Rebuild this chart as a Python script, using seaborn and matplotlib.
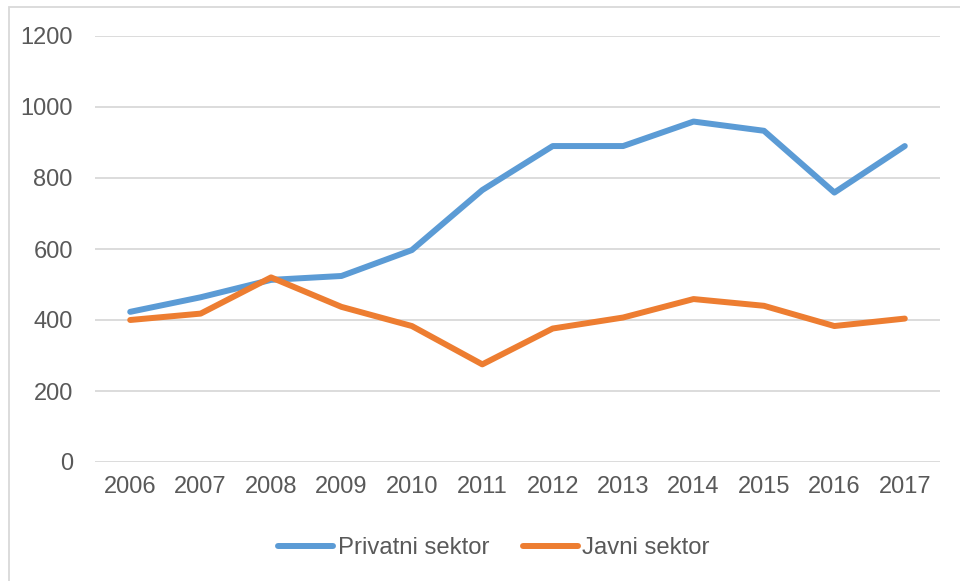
import numpy as np
import pandas as pd
import matplotlib
matplotlib.use("Agg")
import matplotlib.pyplot as plt
import seaborn as sns
from matplotlib.patches import Rectangle

# ========================= Data =========================
years = [2006, 2007, 2008, 2009, 2010, 2011, 2012, 2013, 2014, 2015, 2016, 2017]
privatni = [423, 464, 513, 524, 597, 766, 890, 890, 959, 933, 759, 890]
javni = [400, 418, 520, 437, 383, 275, 376, 407, 459, 440, 383, 404]
series_names = ["Privatni sektor", "Javni sektor"]
y_ticks = [0, 200, 400, 600, 800, 1000, 1200]

BLUE = "#5B9BD5"
ORANGE = "#ED7D31"
TEXT = "#595959"
GRID = "#D9D9D9"

df = pd.DataFrame({
    "Godina": [str(y) for y in years] * 2,
    "Vrijednost": privatni + javni,
    "Sektor": [series_names[0]] * len(years) + [series_names[1]] * len(years),
})

sns.set_theme(style="white")
plt.rcParams["font.family"] = ["Liberation Sans", "DejaVu Sans"]

fig = plt.figure(figsize=(9.6, 5.81), dpi=100)
ax = fig.add_axes([95 / 960, 1 - 462 / 581, 845 / 960, 426 / 581])

sns.lineplot(data=df, x="Godina", y="Vrijednost", hue="Sektor",
             palette=[BLUE, ORANGE], linewidth=4.3, sort=False,
             legend=False, ax=ax, solid_capstyle="round", solid_joinstyle="round")

# Cosmetics
ax.set_xlim(-0.5, len(years) - 0.5)
ax.set_ylim(0, 1200)
ax.set_yticks(y_ticks)
ax.set_yticklabels([str(t) for t in y_ticks])
ax.yaxis.grid(True, color=GRID, linewidth=1.3)
ax.set_axisbelow(True)
for s in ax.spines.values():
    s.set_visible(False)
ax.tick_params(axis="both", length=0, labelsize=17, labelcolor=TEXT)
ax.tick_params(axis="y", pad=16)
ax.tick_params(axis="x", pad=10)
ax.set_xlabel("")
ax.set_ylabel("")

# Legend
handles = [plt.Line2D([], [], color=c, linewidth=4.3, solid_capstyle="round")
           for c in (BLUE, ORANGE)]
fig.legend(handles, series_names, loc="center", bbox_to_anchor=(0.5 + 14 / 960, 1 - 548 / 581),
           ncol=2, frameon=False, fontsize=17.2, labelcolor=TEXT,
           handlelength=2.3, handletextpad=0.2, columnspacing=1.4)

# Chart border
fig.patches.append(Rectangle((8.5 / 960, -0.1), 1.2, 1 - 6.5 / 581 + 0.1,
                             transform=fig.transFigure, fill=False,
                             edgecolor="#D9D9D9", linewidth=1.3))

fig.savefig("out.png", dpi=100)
plt.close(fig)
